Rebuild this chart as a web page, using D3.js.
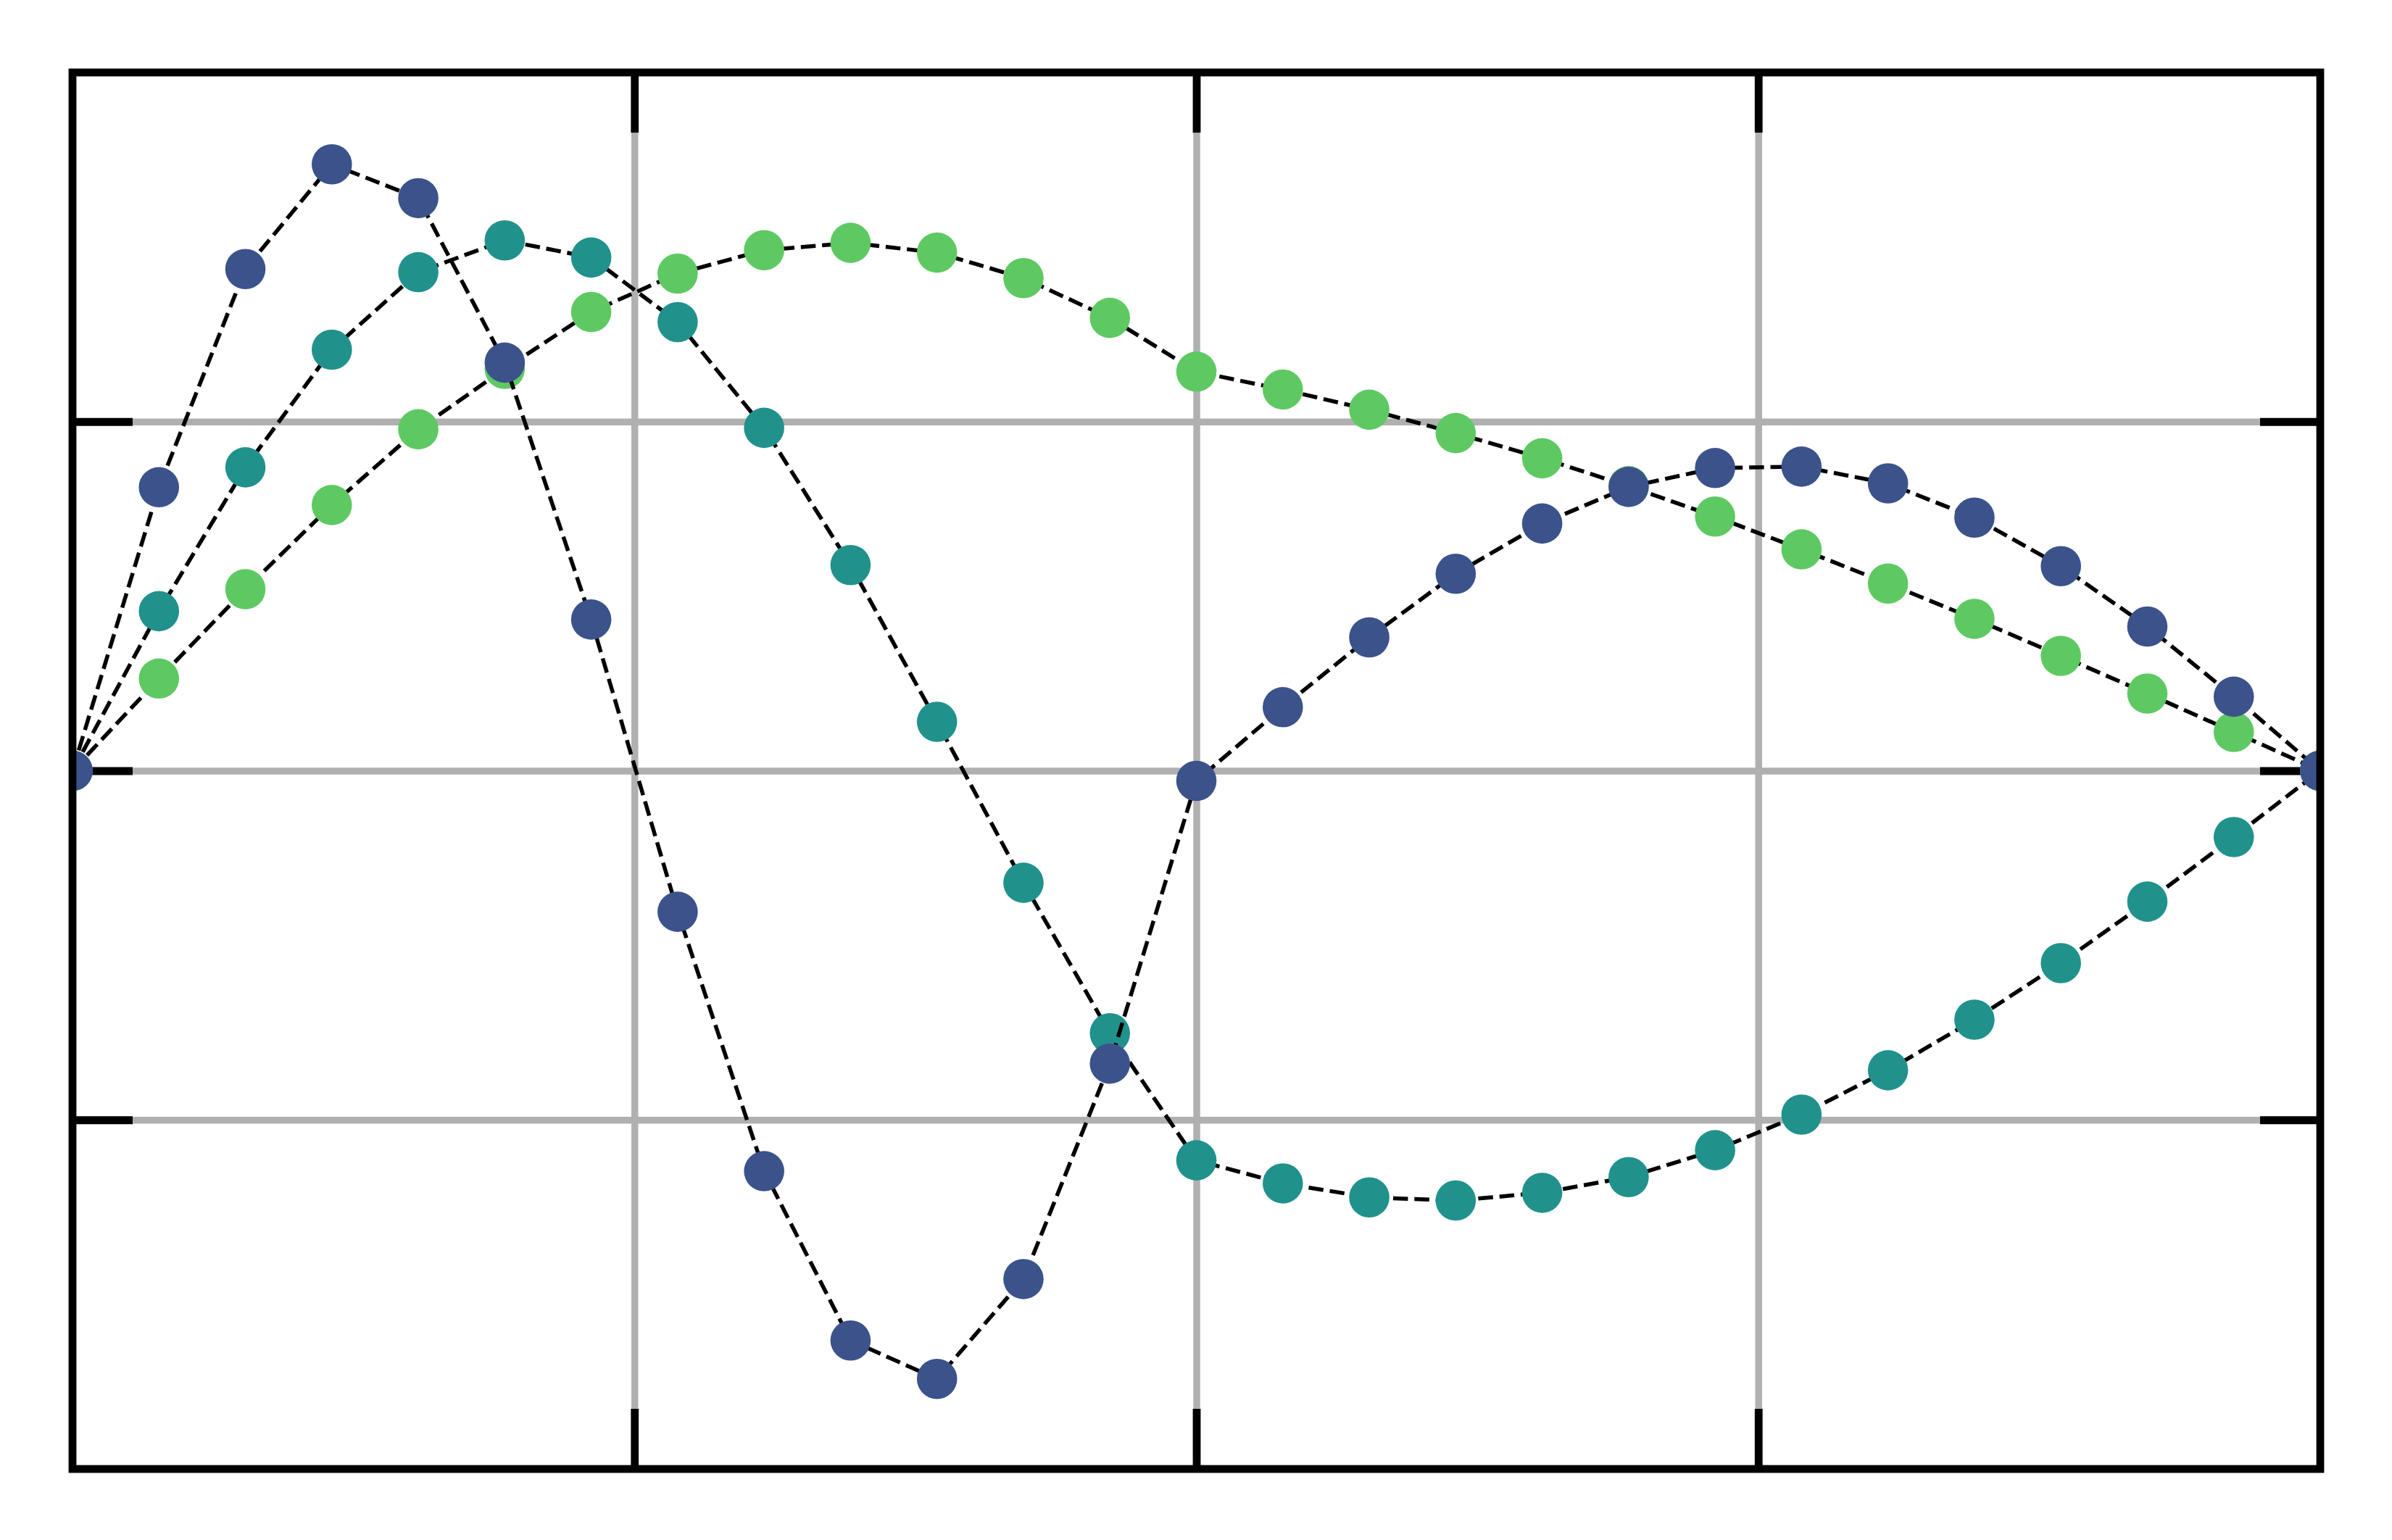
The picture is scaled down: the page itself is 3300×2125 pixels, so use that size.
<!DOCTYPE html>
<html>
<head>
<meta charset="utf-8">
<script src="https://cdn.jsdelivr.net/npm/d3@7"></script>
<style>
  html, body { margin: 0; padding: 0; background: #ffffff; }
  svg { display: block; }
</style>
</head>
<body>
<script>
// ---- data ----
const sampleIndex = [0,1,2,3,4,5,6,7,8,9,10,11,12,13,14,15,16,17,18,19,20,21,22,23,24,25,26];
const seriesBlue  = [0, 0.812, 1.437, 1.737, 1.640, 1.169, 0.433, -0.404, -1.147, -1.632, -1.742, -1.456, -0.839, -0.029, 0.182, 0.382, 0.564, 0.708, 0.813, 0.867, 0.871, 0.823, 0.725, 0.586, 0.413, 0.212, 0];
const seriesTeal  = [0, 0.457, 0.869, 1.206, 1.428, 1.519, 1.470, 1.285, 0.982, 0.589, 0.140, -0.321, -0.752, -1.116, -1.182, -1.222, -1.231, -1.209, -1.164, -1.087, -0.985, -0.858, -0.713, -0.551, -0.375, -0.190, 0];
const seriesGreen = [0, 0.264, 0.520, 0.761, 0.978, 1.151, 1.314, 1.424, 1.491, 1.512, 1.484, 1.411, 1.297, 1.143, 1.092, 1.034, 0.967, 0.895, 0.815, 0.728, 0.634, 0.536, 0.435, 0.329, 0.221, 0.111, 0];
const xTickValues = [6.5, 13, 19.5];
const yTickValues = [-1, 0, 1];
const xDomain = [0, 26];
const yDomain = [-2, 2];

// draw order: first drawn is at the bottom
const seriesList = [
  { values: seriesGreen, color: "#5ec962" },
  { values: seriesTeal,  color: "#21918c" },
  { values: seriesBlue,  color: "#3b528b" }
];

// ---- layout ----
const W = 3300, H = 2125;
const padL = 100, padT = 100, edgeR = 3201, edgeB = 2027;
const pw = edgeR - padL, ph = edgeB - padT;

const svg = d3.select("body").append("svg")
  .attr("width", W).attr("height", H)
  .style("background", "#ffffff");

const x = d3.scaleLinear().domain(xDomain).range([padL, edgeR]);
const y = d3.scaleLinear().domain(yDomain).range([edgeB, padT]);

svg.append("defs").append("clipPath").attr("id", "plotclip")
  .append("rect").attr("x", padL).attr("y", padT).attr("width", pw).attr("height", ph);

// ---- grid ----
const grid = svg.append("g");
grid.append("g").attr("transform", `translate(0,${edgeB})`)
  .call(d3.axisBottom(x).tickValues(xTickValues).tickSize(-ph).tickFormat(""))
  .call(g => g.select(".domain").remove())
  .call(g => g.selectAll("line").attr("stroke", "#b0b0b0").attr("stroke-width", 9.5));
grid.append("g").attr("transform", `translate(${padL},0)`)
  .call(d3.axisLeft(y).tickValues(yTickValues).tickSize(-pw).tickFormat(""))
  .call(g => g.select(".domain").remove())
  .call(g => g.selectAll("line").attr("stroke", "#b0b0b0").attr("stroke-width", 9.5));

// ---- ticks (inward) ----
const tickLen = 83;
const tickW = 10.8;
const ticks = svg.append("g");
function styleTicks(g) {
  g.select(".domain").remove();
  g.selectAll("line").attr("stroke", "#000").attr("stroke-width", tickW).attr("stroke-linecap", "butt");
}
ticks.append("g").attr("transform", `translate(0,${edgeB})`)
  .call(d3.axisBottom(x).tickValues(xTickValues).tickSize(-tickLen).tickFormat("")).call(styleTicks);
ticks.append("g").attr("transform", `translate(0,${padT})`)
  .call(d3.axisTop(x).tickValues(xTickValues).tickSize(-tickLen).tickFormat("")).call(styleTicks);
ticks.append("g").attr("transform", `translate(${padL},0)`)
  .call(d3.axisLeft(y).tickValues(yTickValues).tickSize(-tickLen).tickFormat("")).call(styleTicks);
ticks.append("g").attr("transform", `translate(${edgeR},0)`)
  .call(d3.axisRight(y).tickValues(yTickValues).tickSize(-tickLen).tickFormat("")).call(styleTicks);

// ---- series ----
const plot = svg.append("g").attr("clip-path", "url(#plotclip)");
const line = d3.line().x((d, i) => x(sampleIndex[i])).y(d => y(d));
seriesList.forEach(s => {
  const g = plot.append("g");
  g.append("path")
    .attr("d", line(s.values))
    .attr("fill", "none")
    .attr("stroke", "#000")
    .attr("stroke-width", 5.5)
    .attr("stroke-dasharray", "20.5,8.9")
    .attr("stroke-linecap", "butt")
    .attr("stroke-linejoin", "round");
  g.selectAll("circle").data(s.values).join("circle")
    .attr("cx", (d, i) => x(sampleIndex[i]))
    .attr("cy", d => y(d))
    .attr("r", 27.8)
    .attr("fill", s.color);
});

// ---- spines ----
svg.append("rect")
  .attr("x", padL).attr("y", padT).attr("width", pw).attr("height", ph)
  .attr("fill", "none").attr("stroke", "#000").attr("stroke-width", 10.8)
  .attr("stroke-linejoin", "miter");
</script>
</body>
</html>
